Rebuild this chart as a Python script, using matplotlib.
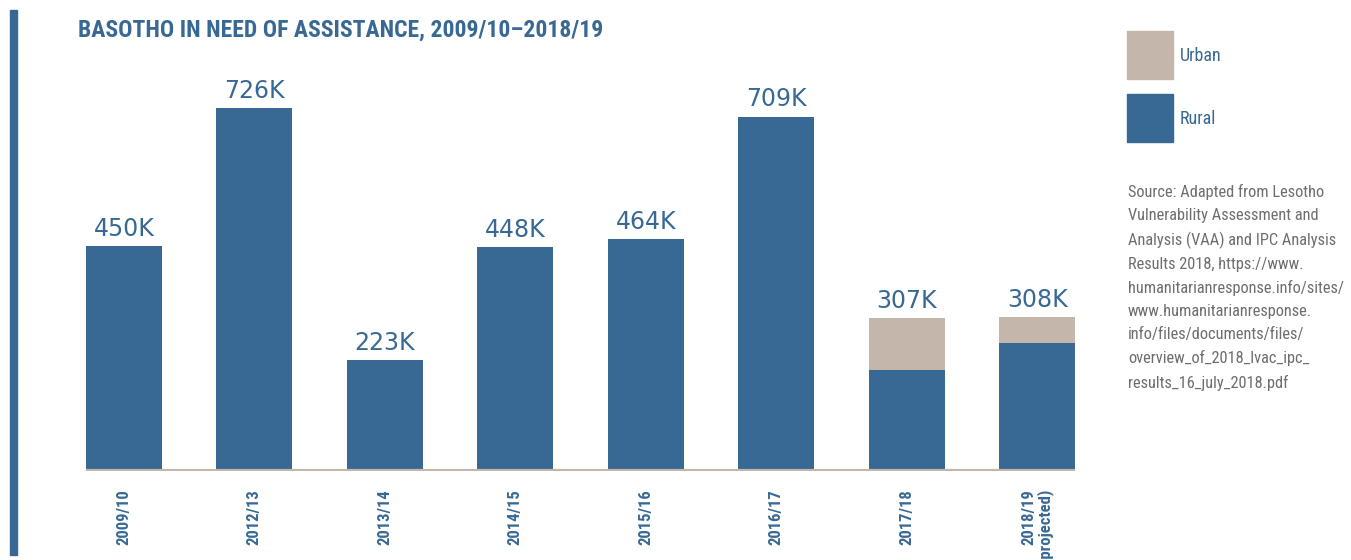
import matplotlib
matplotlib.use('Agg')
from matplotlib import pyplot as plt
from matplotlib.patches import Rectangle
import matplotlib.font_manager as fm
import numpy as np

# data (thousands of people)
years = ['2009/10', '2012/13', '2013/14', '2014/15', '2015/16', '2016/17', '2017/18', '2018/19\n(projected)']
rural = [450, 726, 223, 448, 464, 709, 203, 256]
urban = [0, 0, 0, 0, 0, 0, 104, 52]
totals = ['450K', '726K', '223K', '448K', '464K', '709K', '307K', '308K']

BLUE = '#386995'
TAN = '#c4b6ab'
GREY = '#6d6e71'
names = {f.name for f in fm.fontManager.ttflist}
NARROW = [n for n in ['Roboto Condensed', 'Liberation Sans Narrow', 'Roboto'] if n in names] + ['DejaVu Sans']

W, H = 1351, 560
fig = plt.figure(figsize=(W / 100, H / 100), dpi=100)

# left accent bar
fig.patches.append(Rectangle((10 / W, 1 - 555 / H), 7 / W, 545 / H,
                             transform=fig.transFigure, color=BLUE))

fig.text(78 / W, 1 - 30 / H, 'BASOTHO IN NEED OF ASSISTANCE, 2009/10\u20132018/19',
         fontsize=17, fontweight='bold', color=BLUE, family=NARROW, va='center')

ax = fig.add_axes([86 / W, 1 - 471 / H, (1075 - 86) / W, 400 / H])
x = np.arange(len(years))
ax.bar(x, rural, width=0.585, color=BLUE, zorder=2)
ax.bar(x, urban, bottom=rural, width=0.585, color=TAN, zorder=2)
for xi, r, u, t in zip(x, rural, urban, totals):
    ax.text(xi, r + u + 10, t, ha='center', va='bottom', fontsize=17, color=BLUE)

ax.set_xlim(-0.29, 7.29)
ax.set_ylim(0, 800)
ax.axhline(0, color=TAN, lw=3, zorder=3)
for s in ax.spines.values():
    s.set_visible(False)
ax.set_yticks([])
ax.set_xticks(x)
ax.set_xticklabels(years, rotation=90, fontsize=12, fontweight='bold', color=BLUE, family=NARROW,
                   va='top', ha='center', multialignment='right', linespacing=0.95)
ax.tick_params(axis='x', length=0, pad=13)

# legend
for y0, c, lab in [(31, TAN, 'Urban'), (94, BLUE, 'Rural')]:
    fig.patches.append(Rectangle((1127 / W, 1 - (y0 + 48) / H), 46 / W, 48 / H,
                                 transform=fig.transFigure, color=c))
    fig.text(1180 / W, 1 - (y0 + 25) / H, lab, fontsize=13, color=BLUE, family=NARROW, va='center')

source = ('Source: Adapted from Lesotho\nVulnerability Assessment and\nAnalysis (VAA) and IPC Analysis\n'
          'Results 2018, https://www.\nhumanitarianresponse.info/sites/\nwww.humanitarianresponse.\n'
          'info/files/documents/files/\noverview_of_2018_lvac_ipc_\nresults_16_july_2018.pdf')
fig.text(1128 / W, 1 - 184 / H, source, fontsize=11.8, color=GREY, family=NARROW,
         va='top', ha='left', linespacing=1.65)

fig.savefig('out.png', dpi=100)
